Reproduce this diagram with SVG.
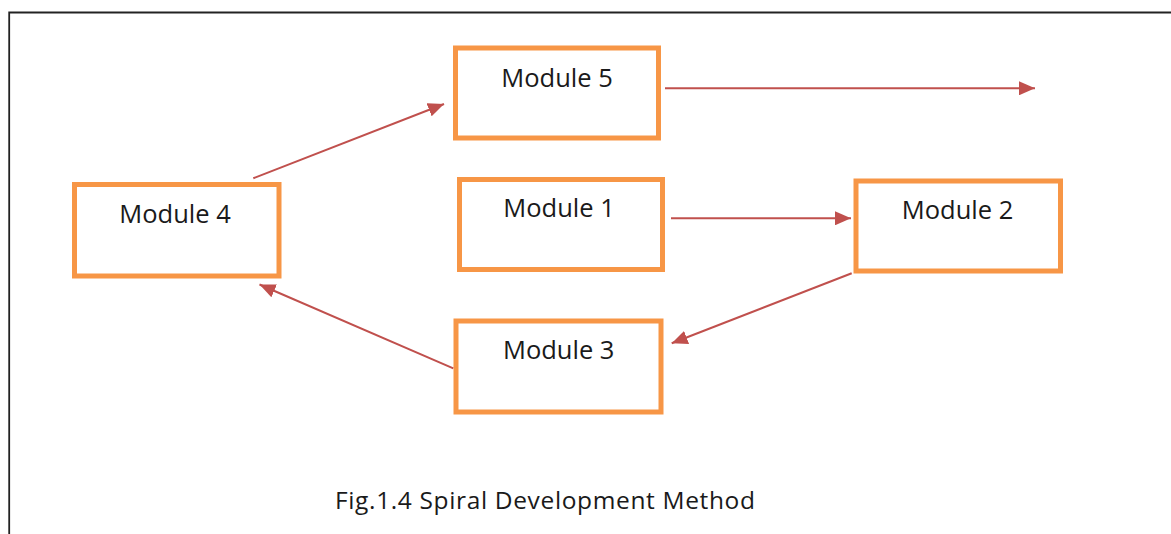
<svg xmlns="http://www.w3.org/2000/svg" width="1171" height="534" viewBox="0 0 1171 534">
<style>
.box{fill:#fff;stroke:#F79646;stroke-width:5}
.lbl{font-family:"Open Sans","Liberation Sans",sans-serif;font-size:25.5px;fill:#1a1a1a;text-anchor:middle}
.cap{font-family:"Open Sans","Liberation Sans",sans-serif;font-size:24.5px;fill:#1a1a1a}
.conn{stroke:#C0504D;stroke-width:2;fill:none;marker-end:url(#ah)}
</style>
<defs>
<marker id="ah" markerUnits="userSpaceOnUse" markerWidth="16" markerHeight="14" refX="16" refY="7" orient="auto">
<path d="M0,0 L16,7 L0,14 z" fill="#C0504D"/>
</marker>
</defs>
<rect width="1171" height="534" fill="#fff"/>
<path d="M9.2,534 V12.5 H1171" fill="none" stroke="#222" stroke-width="1.8"/>
<g id="module5"><rect class="box" x="455.5" y="48" width="203" height="90"/><text class="lbl" x="557" y="86.5">Module 5</text></g>
<g id="module4"><rect class="box" x="74.5" y="184.5" width="204.5" height="91.5"/><text class="lbl" x="175" y="222.7">Module 4</text></g>
<g id="module1"><rect class="box" x="459.5" y="179.5" width="203" height="90"/><text class="lbl" x="559" y="217">Module 1</text></g>
<g id="module2"><rect class="box" x="856" y="181" width="204.5" height="90"/><text class="lbl" x="957.5" y="219.3">Module 2</text></g>
<g id="module3"><rect class="box" x="456" y="321" width="205" height="91"/><text class="lbl" x="558.7" y="359">Module 3</text></g>
<g id="connectors">
<line class="conn" x1="665" y1="88.3" x2="1035" y2="88.3"/>
<line class="conn" x1="671" y1="218.3" x2="851" y2="218.3"/>
<line class="conn" x1="851.7" y1="273.3" x2="671.7" y2="343.3"/>
<line class="conn" x1="453.3" y1="368.3" x2="259.5" y2="284.5"/>
<line class="conn" x1="253.3" y1="178.3" x2="444" y2="104"/>
</g>
<text class="cap" x="335" y="509" textLength="420" lengthAdjust="spacing">Fig.1.4 Spiral Development Method</text>
</svg>
